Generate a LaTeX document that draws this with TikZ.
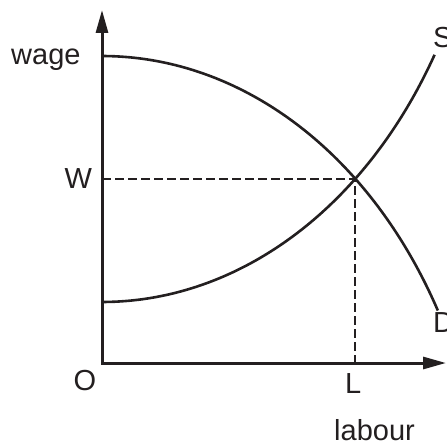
\documentclass[tikz,border=0pt]{standalone}
\usepackage{fontspec}
\setmainfont{Liberation Sans}
\usetikzlibrary{arrows.meta}
\definecolor{ink}{HTML}{231F20}
\tikzset{
  axis/.style={draw=ink, line width=3pt, line join=miter, {Triangle[length=23pt,width=12pt]}-{Triangle[length=23pt,width=12pt]}},
  curve/.style={draw=ink, line width=2.6pt},
  guide/.style={draw=ink, line width=1.4pt, dash pattern=on 8.5pt off 4.5pt},
  lbl/.style={text=ink, inner sep=0pt, anchor=base west, font=\fontsize{29}{29}\selectfont}
}
\begin{document}
\begin{tikzpicture}[x=1pt,y=-1pt]
\useasboundingbox (0,0) rectangle (447,444);
\clip (0,0) rectangle (447,444);
% axes
\coordinate (ytop) at (102,10);
\coordinate (O) at (102,363);
\coordinate (xend) at (446,363);
\draw[axis] (ytop) -- (O) -- (xend);
% curves
\draw[curve] plot[domain=90:29, samples=90, variable=\t] ({102+384*cos(\t)},{550-494*sin(\t)});
\draw[curve] plot[domain=90:30.5, samples=90, variable=\t] ({102+386*cos(\t)},{-200+502*sin(\t)});
% equilibrium guides
\coordinate (E) at (355,179);
\coordinate (yW) at (102,179);
\coordinate (xL) at (355,363);
\draw[guide] (yW) -- (E) -- (xL);
% labels
\node[lbl] (wage) at (11,65) {wage};
\node[lbl] (W) at (64.5,188) {W};
\node[lbl] (Olbl) at (73.5,390) {O};
\node[lbl] (L) at (345,393) {L};
\node[lbl] (labour) at (334,440) {labour};
\node[lbl] (S) at (433,48) {S};
\node[lbl] (D) at (433,332) {D};
\end{tikzpicture}
\end{document}
